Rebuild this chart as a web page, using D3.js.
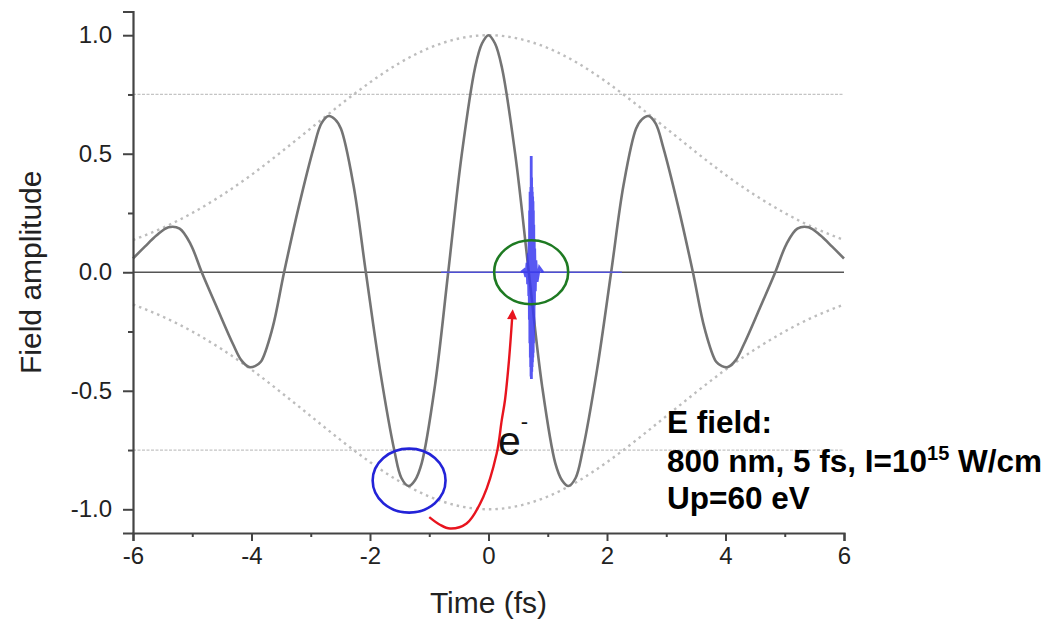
<!DOCTYPE html>
<html>
<head>
<meta charset="utf-8">
<script src="https://cdn.jsdelivr.net/npm/d3@7"></script>
<style>
  html, body { margin: 0; padding: 0; background: #fff; }
  svg { display: block; font-family: "Liberation Sans", Arial, sans-serif; }
</style>
</head>
<body>
<svg id="chart" width="1050" height="619"></svg>
<script>
// ---------------- data ----------------
const fieldT = [-6, -5.8, -5.6, -5.4, -5.213, -5.027, -4.84, -4.573, -4.307, -4.17, -4.04, -3.94, -3.843, -3.647, -3.45, -3.2, -2.95, -2.82, -2.7, -2.59, -2.49, -2.28, -2.07, -1.83, -1.59, -1.47, -1.35, -1.24, -1.127, -0.903, -0.68, -0.453, -0.227, -0.11, 0,
                0.11, 0.227, 0.453, 0.68, 0.903, 1.127, 1.24, 1.35, 1.47, 1.59, 1.83, 2.07, 2.28, 2.49, 2.59, 2.7, 2.82, 2.95, 3.2, 3.45, 3.647, 3.843, 3.94, 4.04, 4.17, 4.307, 4.573, 4.84, 5.027, 5.213, 5.4, 5.6, 5.8, 6];
const fieldV = [0.058, 0.108, 0.156, 0.19, 0.184, 0.118, 0, -0.155, -0.306, -0.372, -0.40, -0.396, -0.378, -0.237, 0, 0.279, 0.526, 0.628, 0.659, 0.645, 0.605, 0.369, 0, -0.414, -0.751, -0.868, -0.902, -0.877, -0.805, -0.477, 0, 0.494, 0.863, 0.965, 1.0,
                0.965, 0.863, 0.494, 0, -0.477, -0.805, -0.877, -0.902, -0.868, -0.751, -0.414, 0, 0.369, 0.605, 0.645, 0.659, 0.628, 0.526, 0.279, 0, -0.237, -0.378, -0.396, -0.40, -0.372, -0.306, -0.155, 0, 0.118, 0.184, 0.19, 0.156, 0.108, 0.058];

const envT = [-6, -5.5, -5, -4.5, -4, -3.5, -3, -2.5, -2, -1.5, -1, -0.5, 0, 0.5, 1, 1.5, 2, 2.5, 3, 3.5, 4, 4.5, 5, 5.5, 6];
const envV = [0.136, 0.187, 0.250, 0.325, 0.411, 0.507, 0.607, 0.707, 0.801, 0.883, 0.946, 0.986, 1.0, 0.986, 0.946, 0.883, 0.801, 0.707, 0.607, 0.507, 0.411, 0.325, 0.250, 0.187, 0.136];

// attosecond burst (blue)
const burstT = [0.55, 0.60, 0.63, 0.65, 0.66, 0.67, 0.68, 0.685, 0.69, 0.694, 0.698, 0.702, 0.706, 0.709, 0.712, 0.715, 0.718, 0.721, 0.724, 0.727, 0.730, 0.733, 0.736, 0.739, 0.742, 0.745, 0.748, 0.751, 0.754, 0.757, 0.76, 0.764, 0.768, 0.772, 0.776, 0.78, 0.79, 0.80, 0.82, 0.86, 0.92];
const burstV = [0, 0.01, -0.02, 0.04, -0.05, 0.08, -0.1, 0.14, -0.2, 0.26, -0.3, 0.34, -0.36, 0.32, -0.4, 0.36, -0.44, 0.49, -0.45, 0.40, -0.42, 0.36, -0.4, 0.34, -0.38, 0.32, -0.36, 0.3, -0.34, 0.26, -0.3, 0.2, -0.22, 0.14, -0.14, 0.1, -0.08, 0.05, -0.04, 0.02, 0];
const blueAxisT = [-0.8, 2.25];

// electron trajectory (red arrow)
const arrowT = [-1.0, -0.82, -0.65, -0.37, -0.088, 0.138, 0.223, 0.278, 0.346, 0.40];
const arrowV = [-1.033, -1.065, -1.081, -1.060, -0.948, -0.765, -0.625, -0.540, -0.371, -0.19];

const xTicks = [-6, -4, -2, 0, 2, 4, 6];
const xMinor = [-5, -3, -1, 1, 3, 5];
const yTicks = [-1.0, -0.5, 0.0, 0.5, 1.0];
const yMinor = [-0.75, -0.25, 0.25, 0.75];
const refLevels = [0.75, -0.75];

// ---------------- layout ----------------
const svg = d3.select("#chart");
const x = d3.scaleLinear().domain([-6, 6]).range([133, 844]);
const y = d3.scaleLinear().domain([-1.1, 1.1]).range([533, 11.5]);

const g = svg.append("g");

// reference dotted levels
refLevels.forEach(v => {
  g.append("line")
    .attr("x1", x(-6)).attr("x2", x(6))
    .attr("y1", y(v)).attr("y2", y(v))
    .attr("stroke", "#c4c4c4").attr("stroke-width", 1.2)
    .attr("stroke-dasharray", "3,1.5");
});

// envelope (dotted)
const envLine = d3.line().x((d, i) => x(envT[i])).y(d => y(d)).curve(d3.curveNatural);
g.append("path").attr("d", envLine(envV))
  .attr("fill", "none").attr("stroke", "#bdbdbd").attr("stroke-width", 2.4)
  .attr("stroke-dasharray", "2.5,4");
g.append("path").attr("d", envLine(envV.map(v => -v)))
  .attr("fill", "none").attr("stroke", "#bdbdbd").attr("stroke-width", 2.4)
  .attr("stroke-dasharray", "2.5,4");

// zero line
g.append("line")
  .attr("x1", x(-6)).attr("x2", x(6)).attr("y1", y(0)).attr("y2", y(0))
  .attr("stroke", "#555").attr("stroke-width", 1.3);

// field curve
const fieldLine = d3.line().x((d, i) => x(fieldT[i])).y(d => y(d)).curve(d3.curveCatmullRom.alpha(0.5));
g.append("path").attr("d", fieldLine(fieldV))
  .attr("fill", "none").attr("stroke", "#747474").attr("stroke-width", 2.6);

// blue time axis of the burst
g.append("line")
  .attr("x1", x(blueAxisT[0])).attr("x2", x(blueAxisT[1])).attr("y1", y(0)).attr("y2", y(0))
  .attr("stroke", "#4c4cff").attr("stroke-opacity", 0.75).attr("stroke-width", 1.3);

// burst
const burstLine = d3.line().x((d, i) => x(burstT[i])).y(d => y(d));
g.append("path").attr("d", burstLine(burstV))
  .attr("fill", "none").attr("stroke", "#3a3af0").attr("stroke-opacity", 0.85).attr("stroke-width", 2.8);

// ellipses
function ellipse(t, v, rt, rv, color) {
  g.append("ellipse")
    .attr("cx", x(t)).attr("cy", y(v))
    .attr("rx", x(t + rt) - x(t)).attr("ry", y(v) - y(v + rv))
    .attr("fill", "none").attr("stroke", color).attr("stroke-width", 2.6);
}
ellipse(0.72, 0, 0.625, 0.135, "#1e7a22");
ellipse(-1.34, -0.879, 0.615, 0.135, "#2323d8");

// red arrow
const defs = svg.append("defs");
defs.append("marker").attr("id", "ah")
  .attr("viewBox", "0 0 10 10").attr("refX", 2).attr("refY", 5)
  .attr("markerUnits", "userSpaceOnUse")
  .attr("markerWidth", 16).attr("markerHeight", 10)
  .attr("orient", "auto")
  .append("path").attr("d", "M0,0 L10,5 L0,10 z").attr("fill", "#e8141e");
const arrowLine = d3.line().x((d, i) => x(arrowT[i])).y(d => y(d)).curve(d3.curveCatmullRom);
g.append("path").attr("d", arrowLine(arrowV))
  .attr("fill", "none").attr("stroke", "#e8141e").attr("stroke-width", 2.4)
  .attr("marker-end", "url(#ah)");

// e- label
const eText = g.append("text").attr("x", 498).attr("y", 455)
  .attr("font-size", 41).attr("fill", "#111").text("e");
eText.append("tspan").attr("dy", -26).attr("font-size", 22).text("-");

// ---------------- axes ----------------
const axisColor = "#444";
const fmtX = d => d3.format("d")(d).replace("\u2212", "-");
const fmtY = d => d3.format(".1f")(d).replace("\u2212", "-");
const xAxis = d3.axisBottom(x).tickValues(xTicks).tickSize(8).tickPadding(6).tickFormat(fmtX);
const gx = svg.append("g").attr("transform", `translate(0,${y(-1.1)})`).call(xAxis);
gx.select(".domain").attr("stroke", axisColor).attr("stroke-width", 2.2);
gx.selectAll(".tick line").attr("stroke", axisColor).attr("stroke-width", 2);
gx.selectAll(".tick text").attr("font-size", 24).attr("fill", "#222")
  .attr("font-family", "'Liberation Sans', Arial, sans-serif");
const xAxisMinor = d3.axisBottom(x).tickValues(xMinor).tickSize(4).tickFormat("");
const gxm = svg.append("g").attr("transform", `translate(0,${y(-1.1)})`).call(xAxisMinor);
gxm.select(".domain").remove();
gxm.selectAll(".tick line").attr("stroke", axisColor).attr("stroke-width", 2);

const yAxis = d3.axisLeft(y).tickValues(yTicks).tickSize(10).tickPadding(11).tickFormat(fmtY);
const gy = svg.append("g").attr("transform", `translate(${x(-6)},0)`).call(yAxis);
gy.select(".domain").attr("stroke", axisColor).attr("stroke-width", 2.2);
gy.selectAll(".tick line").attr("stroke", axisColor).attr("stroke-width", 2);
gy.selectAll(".tick text").attr("font-size", 24).attr("fill", "#222")
  .attr("font-family", "'Liberation Sans', Arial, sans-serif");
const yAxisMinor = d3.axisLeft(y).tickValues(yMinor).tickSize(5).tickFormat("");
const gym = svg.append("g").attr("transform", `translate(${x(-6)},0)`).call(yAxisMinor);
gym.select(".domain").remove();
gym.selectAll(".tick line").attr("stroke", axisColor).attr("stroke-width", 2);

// axis titles
svg.append("text").attr("x", (x(-6) + x(6)) / 2).attr("y", 613)
  .attr("text-anchor", "middle").attr("font-size", 30).attr("fill", "#222")
  .text("Time (fs)");
svg.append("text")
  .attr("transform", `translate(41,${y(0)}) rotate(-90)`)
  .attr("text-anchor", "middle").attr("font-size", 30).attr("fill", "#222")
  .text("Field amplitude");

// info text
const info = svg.append("g").attr("font-weight", "bold").attr("font-size", 31.5).attr("fill", "#000");
info.append("text").attr("x", 667).attr("y", 433).text("E field:");
const l2 = info.append("text").attr("x", 667).attr("y", 472);
l2.append("tspan").text("800 nm, 5 fs, I=10");
l2.append("tspan").attr("font-size", 20).attr("dy", -12).text("15");
l2.append("tspan").attr("dy", 12).text(" W/cm");
info.append("text").attr("x", 667).attr("y", 509).text("Up=60 eV");
</script>
</body>
</html>
